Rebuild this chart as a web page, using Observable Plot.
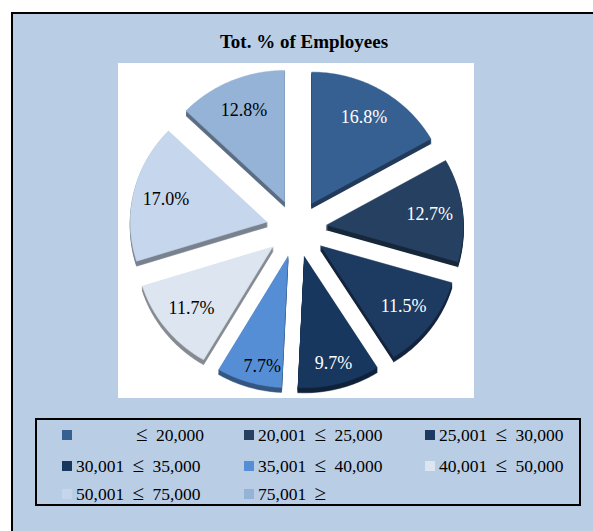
<!DOCTYPE html>
<html>
<head>
<meta charset="utf-8">
<script src="https://cdn.jsdelivr.net/npm/d3@7"></script>
<script src="https://cdn.jsdelivr.net/npm/@observablehq/plot@0.6"></script>
<style>
  html, body { margin: 0; padding: 0; background: #ffffff; width: 593px; height: 531px; overflow: hidden; }
  #frame { position: absolute; left: 11px; top: 12px; width: 640px; height: 560px; box-sizing: border-box;
           border: 2px solid #000; background: #b9cde5; }
  #title { position: absolute; left: 0; top: 32px; width: 608px; text-align: center;
           font-family: "Liberation Serif", "Times New Roman", serif; font-weight: bold; font-size: 19px; line-height: 20px; color: #000; }
  #chart { position: absolute; left: 118px; top: 63px; width: 356px; height: 335px; }
  #chart svg { display: block; }
  #legend { position: absolute; left: 35px; top: 418px; width: 546px; height: 88px; box-sizing: border-box; border: 2px solid #000; }
  .item { position: absolute; height: 20px; display: flex; align-items: center; line-height: 20px;
          font-family: "Liberation Serif", "Times New Roman", serif; font-size: 17.5px; word-spacing: 4px; color: #000; white-space: nowrap; }
  .sw { width: 10px; height: 10px; margin-right: 4px; flex: none; }
  .lab { display: inline-block; }
  .sym { font-size: 21px; line-height: 0; }
</style>
</head>
<body>
<div id="frame"></div>
<div id="title">Tot. % of Employees</div>
<div id="chart"></div>
<div id="legend"></div>
<script>
// ---- data ----
const categories = ["\u2264 20,000", "20,001 \u2264 25,000", "25,001 \u2264 30,000", "30,001 \u2264 35,000",
                    "35,001 \u2264 40,000", "40,001 \u2264 50,000", "50,001 \u2264 75,000", "75,001 \u2265"];
const values = [16.8, 12.7, 11.5, 9.7, 7.7, 11.7, 17.0, 12.8];
const labels = ["16.8%", "12.7%", "11.5%", "9.7%", "7.7%", "11.7%", "17.0%", "12.8%"];
const colors = ["#376092", "#254061", "#1d3a61", "#17375e", "#558ed5", "#dce5f0", "#c6d6ec", "#95b3d7"];

// ---- geometry derived from the data ----
const explode = 0.219;
const arcs = d3.pie().sort(null).value(d => d)(values);
const slices = [];
const labelRows = [];
arcs.forEach((a, i) => {
  const mid = (a.startAngle + a.endAngle) / 2;
  const ox = explode * Math.sin(mid), oy = explode * Math.cos(mid);
  const shade = d3.color(colors[i]).darker(1.4).formatHex();
  slices.push({cat: categories[i], color: colors[i], shade, x: ox, y: oy});
  const n = Math.max(8, Math.ceil((a.endAngle - a.startAngle) / (Math.PI / 180)));
  for (let k = 0; k <= n; k++) {
    const t = a.startAngle + (a.endAngle - a.startAngle) * k / n;
    slices.push({cat: categories[i], color: colors[i], shade, x: ox + Math.sin(t), y: oy + Math.cos(t)});
  }
  const kr = values[i] < 8 ? 0.86 : values[i] < 10 ? 0.84 : 0.76;
  const am = values[i] < 8 ? mid - 0.07 : mid;
  labelRows.push({
    label: labels[i],
    x: ox + kr * Math.sin(am),
    y: oy + kr * Math.cos(am),
    ink: d3.lab(colors[i]).l < 50 ? "#ffffff" : "#000000"
  });
});

const depthMarks = [1, 2, 3, 4, 5].map(d =>
  Plot.line(slices, {x: "x", y: "y", z: "cat", fill: "shade", stroke: "shade", strokeWidth: 0.5, dy: d})
);

const chart = Plot.plot({
  width: 356,
  height: 335,
  margin: 0,
  x: {domain: [-1.2993, 1.2993], axis: null},
  y: {domain: [-1.2928, 1.2548], axis: null},
  color: {type: "identity"},
  style: {background: "#ffffff", overflow: "visible"},
  marks: [
    ...depthMarks,
    Plot.line(slices, {x: "x", y: "y", z: "cat", fill: "color", stroke: "color", strokeWidth: 0.5}),
    Plot.text(labelRows, {x: "x", y: "y", text: "label", fill: "ink",
      fontFamily: "Liberation Serif, Times New Roman, serif", fontSize: 18})
  ]
});
document.getElementById("chart").appendChild(chart);

// ---- legend ----
const legend = document.getElementById("legend");
const colX = [60, 242, 423];
const rowY = [423, 454, 482];
categories.forEach((c, i) => {
  const col = i % 3, row = Math.floor(i / 3);
  const it = document.createElement("div");
  it.className = "item";
  it.style.left = (colX[col] - 35) + "px";
  it.style.top = (rowY[row] - 418) + "px";
  const sw = document.createElement("span");
  sw.className = "sw";
  sw.style.background = colors[i];
  const lab = document.createElement("span");
  lab.className = "lab";
  c.split(/([\u2264\u2265])/).forEach(part => {
    if (part === "\u2264" || part === "\u2265") {
      const s = document.createElement("span");
      s.className = "sym";
      s.textContent = part;
      lab.appendChild(s);
    } else {
      lab.appendChild(document.createTextNode(part));
    }
  });
  if (i === 0) { lab.style.width = "128px"; lab.style.textAlign = "right"; }
  it.appendChild(sw);
  it.appendChild(lab);
  legend.appendChild(it);
});
</script>
</body>
</html>
